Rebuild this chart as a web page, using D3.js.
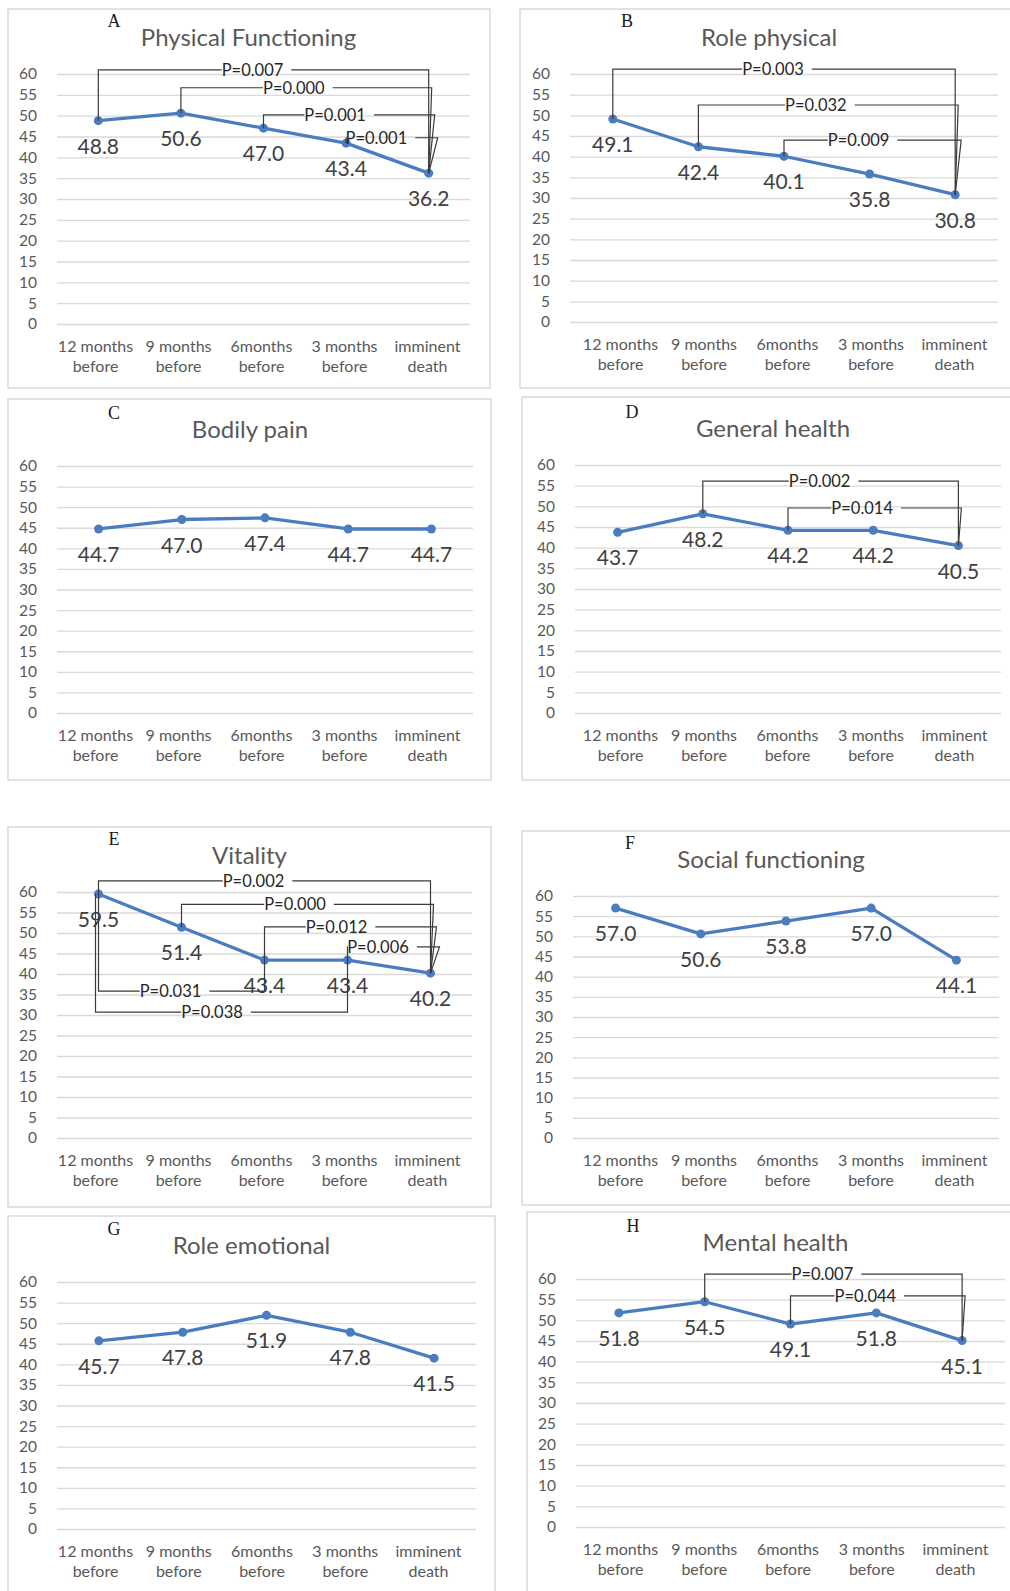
<!DOCTYPE html>
<html>
<head>
<meta charset="utf-8">
<script src="https://cdn.jsdelivr.net/npm/d3@7"></script>
<style>
  html, body { margin: 0; padding: 0; background: #fff; }
  svg { display: block; }
</style>
</head>
<body>
<svg id="chart" width="1010" height="1591"></svg>
<script>
// ---------------- data ----------------
const categories = [["12 months", "before"], ["9 months", "before"], ["6months", "before"], ["3 months", "before"], ["imminent", "death"]];
const yTicks = [0, 5, 10, 15, 20, 25, 30, 35, 40, 45, 50, 55, 60];
const panelLetters = ["A", "B", "C", "D", "E", "F", "G", "H"];
const panelTitles = ["Physical Functioning", "Role physical", "Bodily pain", "General health",
                     "Vitality", "Social functioning", "Role emotional", "Mental health"];

const physicalFunctioning = [48.8, 50.6, 47.0, 43.4, 36.2];
const rolePhysical        = [49.1, 42.4, 40.1, 35.8, 30.8];
const bodilyPain          = [44.7, 47.0, 47.4, 44.7, 44.7];
const generalHealth       = [43.7, 48.2, 44.2, 44.2, 40.5];
const vitality            = [59.5, 51.4, 43.4, 43.4, 40.2];
const socialFunctioning   = [57.0, 50.6, 53.8, 57.0, 44.1];
const roleEmotional       = [45.7, 47.8, 51.9, 47.8, 41.5];
const mentalHealth        = [51.8, 54.5, 49.1, 51.8, 45.1];

// significance brackets: [from index, to index, bracket level (score units), label, side]
const bracketsA = [[0, 4, 61.0, "P=0.007", "up"], [1, 4, 56.7, "P=0.000", "up"], [2, 4, 50.2, "P=0.001", "up"], [3, 4, 44.7, "P=0.001", "up"]];
const bracketsB = [[0, 4, 61.2, "P=0.003", "up"], [1, 4, 52.5, "P=0.032", "up"], [2, 4, 44.0, "P=0.009", "up"]];
const bracketsC = [];
const bracketsD = [[1, 4, 56.1, "P=0.002", "up"], [2, 4, 49.6, "P=0.014", "up"]];
const bracketsE = [[0, 4, 62.7, "P=0.002", "up"], [1, 4, 57.0, "P=0.000", "up"], [2, 4, 51.5, "P=0.012", "up"], [3, 4, 46.6, "P=0.006", "up"],
                   [0, 2, 35.8, "P=0.031", "down"], [0, 3, 30.7, "P=0.038", "down"]];
const bracketsF = [];
const bracketsG = [];
const bracketsH = [[1, 4, 61.2, "P=0.007", "up"], [2, 4, 55.9, "P=0.044", "up"]];

const seriesList = [physicalFunctioning, rolePhysical, bodilyPain, generalHealth, vitality, socialFunctioning, roleEmotional, mentalHealth];
const bracketList = [bracketsA, bracketsB, bracketsC, bracketsD, bracketsE, bracketsF, bracketsG, bracketsH];

// ---------------- layout ----------------
// box: [left, top, width, height]; gx: plot x range; gy: [y of 0, y of 60]; lx: category label centre range
const layout = [
  { box: [8, 9, 482, 379],     gx: [57, 470],   gy: [324, 74],    lx: [95, 427] },
  { box: [520, 9, 520, 379],   gx: [570, 998],  gy: [322, 74],    lx: [620, 954] },
  { box: [8, 399, 483, 381],   gx: [57, 473],   gy: [713, 466],   lx: [95, 427] },
  { box: [522, 397, 520, 383], gx: [575, 1001], gy: [713, 465],   lx: [620, 954] },
  { box: [8, 827, 483, 380],   gx: [57, 472],   gy: [1138, 892],  lx: [95, 427] },
  { box: [522, 831, 520, 374], gx: [573, 999],  gy: [1138, 896],  lx: [620, 954] },
  { box: [8, 1216, 487, 420],  gx: [57, 476],   gy: [1529, 1282], lx: [95, 428] },
  { box: [527, 1212, 520, 420],gx: [576, 1005], gy: [1527, 1279], lx: [620, 955] }
];

const FONT = "Lato, 'Open Sans', 'Noto Sans', sans-serif";
const BLUE = "#4a7dc0";
const svg = d3.select("#chart");

layout.forEach((L, p) => {
  const values = seriesList[p];
  const g = svg.append("g");

  // panel border
  g.append("rect")
    .attr("x", L.box[0]).attr("y", L.box[1])
    .attr("width", L.box[2]).attr("height", L.box[3])
    .attr("fill", "#fff").attr("stroke", "#d9d9d9").attr("stroke-width", 1.5);

  const x = d3.scalePoint().domain(d3.range(categories.length)).range(L.gx).padding(0.5);
  const xl = d3.scalePoint().domain(d3.range(categories.length)).range(L.lx);
  const y = d3.scaleLinear().domain([0, 60]).range(L.gy);

  // y axis with gridlines
  const yAxis = g.append("g")
    .attr("transform", `translate(${L.gx[0]},0)`)
    .call(d3.axisLeft(y).tickValues(yTicks).tickSize(-(L.gx[1] - L.gx[0])).tickPadding(20));
  yAxis.select(".domain").remove();
  yAxis.selectAll(".tick line").attr("stroke", "#d9d9d9").attr("stroke-width", 1.4);
  yAxis.selectAll(".tick text")
    .attr("fill", "#595959").style("font-family", FONT).style("font-size", "15.5px");

  // x axis labels
  const xAxis = g.append("g")
    .attr("transform", `translate(0,${L.gy[0]})`)
    .call(d3.axisBottom(xl).tickSize(0).tickFormat(() => ""));
  xAxis.select(".domain").remove();
  xAxis.selectAll(".tick text").remove();
  xAxis.selectAll(".tick").each(function (d) {
    const t = d3.select(this).append("text")
      .attr("text-anchor", "middle").attr("fill", "#595959")
      .style("font-family", FONT).style("font-size", "16px");
    t.append("tspan").attr("x", 0).attr("y", 28).text(categories[d][0]);
    t.append("tspan").attr("x", 0).attr("y", 48).text(categories[d][1]);
  });

  // letter and title
  g.append("text")
    .attr("x", L.gx[0] + 57).attr("y", L.gy[1] - 47)
    .attr("text-anchor", "middle").attr("fill", "#1a1a1a")
    .style("font-family", "'Liberation Serif', 'Times New Roman', serif").style("font-size", "18px")
    .text(panelLetters[p]);
  g.append("text")
    .attr("x", (L.gx[0] + L.gx[1]) / 2 - 15).attr("y", L.gy[1] - 28)
    .attr("text-anchor", "middle").attr("fill", "#595959")
    .style("font-family", FONT).style("font-size", "24px")
    .text(panelTitles[p]);

  // line & markers
  const line = d3.line().x((d, i) => x(i)).y(d => y(d));
  g.append("path").datum(values)
    .attr("d", line).attr("fill", "none").attr("stroke", BLUE)
    .attr("stroke-width", 3.3).attr("stroke-linejoin", "round");
  g.selectAll("circle.pt").data(values).join("circle")
    .attr("class", "pt")
    .attr("cx", (d, i) => x(i)).attr("cy", d => y(d)).attr("r", 4.5)
    .attr("fill", BLUE);

  // data labels
  g.selectAll("text.dl").data(values).join("text")
    .attr("class", "dl")
    .attr("x", (d, i) => x(i)).attr("y", d => y(d) + 33)
    .attr("text-anchor", "middle").attr("fill", "#404040")
    .style("font-family", FONT).style("font-size", "21px")
    .text(d => d.toFixed(1));

  // brackets
  const endCount = {}, startCount = {};
  bracketList[p].forEach(b => {
    const [from, to, level, label, side] = b;
    const kEnd = side + "e" + to; endCount[kEnd] = (endCount[kEnd] || 0);
    const kStart = side + "s" + from; startCount[kStart] = (startCount[kStart] || 0);
    const dxEnd = side === "up" ? 3 * endCount[kEnd] : 0;
    const dxStart = side === "down" ? -3 * startCount[kStart] : 0;
    endCount[kEnd]++; startCount[kStart]++;

    const x1 = x(from) + dxStart, x2 = x(to) + dxEnd, ly = y(level);
    const bg = g.append("g");
    const txt = bg.append("text")
      .attr("y", ly).attr("dominant-baseline", "central")
      .attr("fill", "#262626")
      .style("font-family", FONT).style("font-size", "16.5px")
      .text(label);
    const w = txt.node().getComputedTextLength();
    const mid = (x(from) + x(to)) / 2;
    const tx = mid - 11 - w / 2;
    txt.attr("x", tx);
    const path = `M${x1},${y(values[from])}V${ly}H${tx}` +
                 `M${tx + w + 8},${ly}H${x2}L${x(to)},${y(values[to])}`;
    bg.insert("path", "text").attr("d", path)
      .attr("fill", "none").attr("stroke", "#3a3a3a").attr("stroke-width", 1.2);
  });
});
</script>
</body>
</html>
